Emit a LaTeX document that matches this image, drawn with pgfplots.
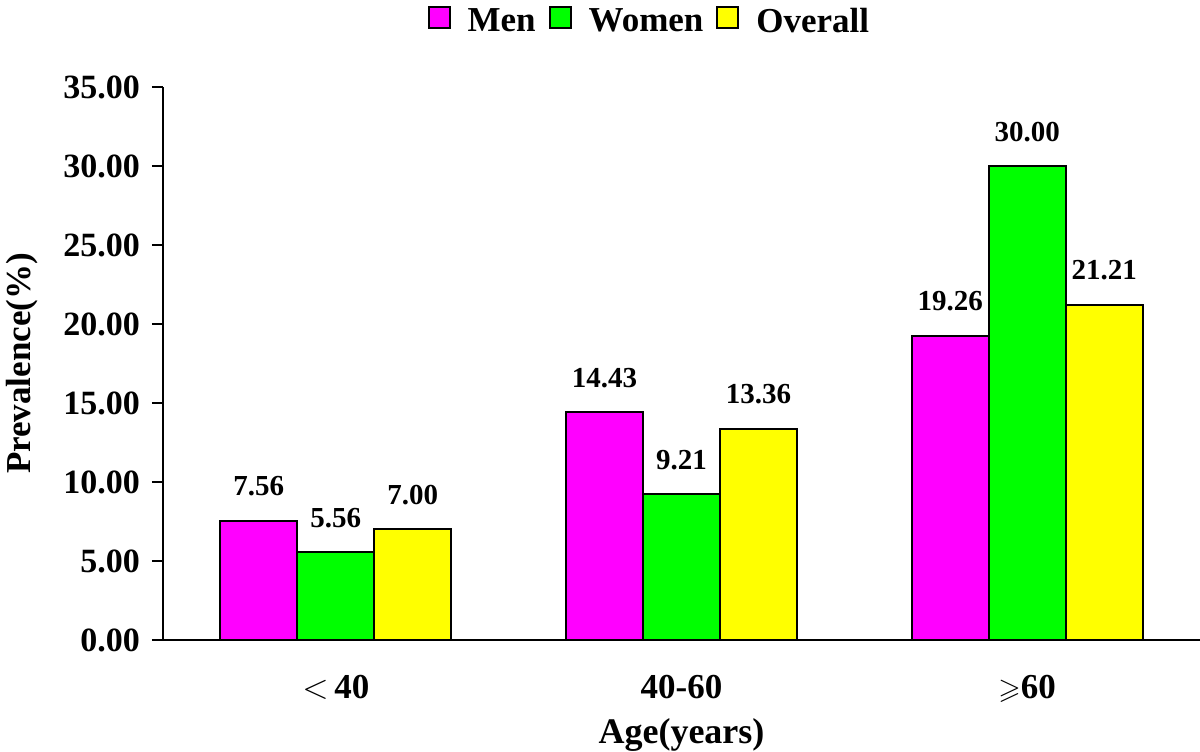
\documentclass[border=0pt]{standalone}
\usepackage{pgfplots}
\pgfplotsset{compat=1.18}
\usepackage{amssymb}
\usepackage{fontspec}
\setmainfont{Liberation Serif}
\definecolor{cm}{RGB}{255,0,255}
\definecolor{cg}{RGB}{0,255,0}
\definecolor{cy}{RGB}{255,255,0}
\pgfplotstableread{
x y l
0 7.56 7.56
1 14.43 14.43
2 19.26 19.26
}\men
\pgfplotstableread{
x y l
0 5.56 5.56
1 9.21 9.21
2 30.00 30.00
}\women
\pgfplotstableread{
x y l
0 7.00 7.00
1 13.36 13.36
2 21.21 21.21
}\overall
\begin{document}
\begin{tikzpicture}
\begin{axis}[
  name=ax,
  scale only axis,
  width=518.5pt, height=276.5pt,
  xmin=-0.5, xmax=2.5, ymin=0, ymax=35,
  axis x line=bottom, axis y line=left,
  axis line style={-, line width=1.3pt},
  xtick={0,1,2},
  xticklabels={{{\LARGE$<$}\,40},{40-60},{{\Large$\geqslant$}60}},
  x tick style={draw=none},
  ytick={0,5,...,35},
  y tick style={line width=1.3pt, black},
  tick align=outside,
  major tick length=5.5pt,
  /pgf/number format/assume math mode=true,
  y tick label style={/pgf/number format/.cd, fixed, fixed zerofill, precision=2, /tikz/.cd, font=\bfseries\fontsize{17}{18}\selectfont, xshift=-2.5pt},
  x tick label style={font=\bfseries\fontsize{17.5}{18}\selectfont, anchor=base, yshift=-23.5pt},
  xlabel={Age(years)},
  ylabel={Prevalence(\%)},
  xlabel style={font=\bfseries\fontsize{18}{20}\selectfont, at={(axis description cs:0.5,0)}, anchor=base, yshift=-51.5pt},
  ylabel style={font=\bfseries\fontsize{17.5}{20}\selectfont, at={(axis description cs:-0.136,0.5)}, anchor=center},
  legend columns=3,
  legend style={draw=none, at={(0.47,1.118)}, anchor=center, font=\bfseries\fontsize{17.5}{20}\selectfont,
    /tikz/every even column/.append style={column sep=4.5pt},
    /tikz/every odd column/.append style={column sep=6.5pt}},
  nodes near coords,
  point meta=explicit symbolic,
  clip=false,
]
\addplot[ybar, bar width=0.223, bar shift=-0.223, fill=cm, draw=black, line width=1pt,
  nodes near coords style={font=\bfseries\fontsize{14.5}{16}\selectfont, anchor=base, yshift=12.5pt, xshift=-38.5pt, black},
  legend image code/.code={\draw[fill=cm, draw=black, line width=1pt] (0pt,-3pt) rectangle (10.5pt,7.5pt);}]
  table[x=x, y=y, meta=l]{\men};
\addlegendentry{Men}
\addplot[ybar, bar width=0.223, bar shift=0, fill=cg, draw=black, line width=1pt,
  nodes near coords style={font=\bfseries\fontsize{14.5}{16}\selectfont, anchor=base, yshift=12.5pt, black},
  legend image code/.code={\draw[fill=cg, draw=black, line width=1pt] (0pt,-3pt) rectangle (10.5pt,7.5pt);}]
  table[x=x, y=y, meta=l]{\women};
\addlegendentry{Women}
\addplot[ybar, bar width=0.223, bar shift=0.223, fill=cy, draw=black, line width=1pt,
  nodes near coords style={font=\bfseries\fontsize{14.5}{16}\selectfont, anchor=base, yshift=12.5pt, xshift=38.5pt, black},
  legend image code/.code={\draw[fill=cy, draw=black, line width=1pt] (0pt,-3pt) rectangle (10.5pt,7.5pt);}]
  table[x=x, y=y, meta=l]{\overall};
\addlegendentry{Overall}
\end{axis}
\pgfresetboundingbox
\path[use as bounding box] (ax.south west) ++(-81.5pt,-55.5pt) rectangle ++(600pt,375.5pt);
\end{tikzpicture}
\end{document}
